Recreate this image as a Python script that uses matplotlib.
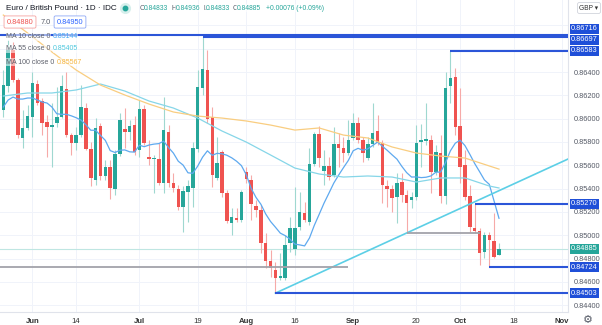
import numpy as np
import pandas as pd
import matplotlib
matplotlib.use("Agg")
import matplotlib.pyplot as plt
import matplotlib.transforms as mtransforms

plt.rcParams['font.family'] = ['Liberation Sans', 'DejaVu Sans']

# EUR/GBP daily candles, 24 May 2021 .. 13 Oct 2021
opens = [0.86074, 0.86280, 0.86589, 0.86331, 0.85834, 0.85920, 0.86014, 0.86297, 0.86151, 0.85971,
         0.85928, 0.85962, 0.86014, 0.86254, 0.85859, 0.85791, 0.85859, 0.86091, 0.85739, 0.85473,
         0.85937, 0.85508, 0.85585, 0.85396, 0.85696, 0.85911, 0.85885, 0.85945, 0.85731, 0.86083,
         0.85671, 0.85654, 0.85654, 0.85448, 0.85885, 0.85448, 0.85396, 0.85242, 0.85370, 0.85405,
         0.85739, 0.86263, 0.86417, 0.86014, 0.85491, 0.85714, 0.85362, 0.85104, 0.85147, 0.85130,
         0.85542, 0.85473, 0.85250, 0.85216, 0.84933, 0.84778, 0.84701, 0.84633, 0.84633, 0.84933,
         0.84880, 0.85070, 0.85190, 0.85113, 0.85611, 0.85868, 0.85551, 0.85593, 0.85516, 0.85782,
         0.85748, 0.85705, 0.85834, 0.85962, 0.85817, 0.85662, 0.85782, 0.85894, 0.85791, 0.85422,
         0.85396, 0.85327, 0.85456, 0.85345, 0.85302, 0.85327, 0.85799, 0.85808, 0.85817, 0.85542,
         0.85705, 0.85336, 0.86280, 0.86357, 0.85937, 0.85602, 0.85336, 0.85062, 0.85036, 0.84856,
         0.85001, 0.84950, 0.84833]
highs = [0.86417, 0.86675, 0.86657, 0.86349, 0.86074, 0.86117, 0.86400, 0.86331, 0.86177, 0.86031,
         0.86134, 0.86271, 0.86374, 0.86400, 0.85877, 0.85928, 0.86288, 0.86134, 0.85799, 0.86005,
         0.85962, 0.85645, 0.85645, 0.85731, 0.86048, 0.86091, 0.85988, 0.86022, 0.86160, 0.86117,
         0.85817, 0.85688, 0.85791, 0.86185, 0.85945, 0.85533, 0.85430, 0.85422, 0.85473, 0.85799,
         0.86417, 0.86697, 0.86589, 0.86100, 0.85842, 0.85731, 0.85388, 0.85233, 0.85233, 0.85388,
         0.85585, 0.85516, 0.85302, 0.85259, 0.85019, 0.84873, 0.84770, 0.84847, 0.85001, 0.85156,
         0.85413, 0.85370, 0.85285, 0.85748, 0.85885, 0.85937, 0.85731, 0.85671, 0.85928, 0.85877,
         0.85842, 0.85988, 0.86048, 0.86014, 0.85842, 0.85842, 0.86134, 0.86031, 0.85817, 0.85473,
         0.85430, 0.85533, 0.85533, 0.85388, 0.85370, 0.85945, 0.85954, 0.86134, 0.85859, 0.85774,
         0.85859, 0.86400, 0.86583, 0.86434, 0.86263, 0.85731, 0.85430, 0.85270, 0.85062, 0.85027,
         0.85027, 0.85190, 0.84936]
lows = [0.86014, 0.86228, 0.86314, 0.85834, 0.85748, 0.85902, 0.85842, 0.86117, 0.85859, 0.85671,
        0.85585, 0.85928, 0.86005, 0.85842, 0.85688, 0.85731, 0.85842, 0.85731, 0.85422, 0.85430,
        0.85473, 0.85473, 0.85310, 0.85345, 0.85679, 0.85748, 0.85817, 0.85688, 0.85671, 0.85774,
        0.85602, 0.85362, 0.85430, 0.85362, 0.85413, 0.85370, 0.85216, 0.85027, 0.85113, 0.85242,
        0.85714, 0.86203, 0.85962, 0.85413, 0.85473, 0.85327, 0.85104, 0.85001, 0.85113, 0.85113,
        0.85448, 0.85130, 0.85156, 0.84847, 0.84718, 0.84641, 0.84503, 0.84615, 0.84615, 0.84856,
        0.84830, 0.85044, 0.85113, 0.85087, 0.85594, 0.85585, 0.85430, 0.85473, 0.85499, 0.85585,
        0.85628, 0.85688, 0.85817, 0.85791, 0.85628, 0.85645, 0.85756, 0.85774, 0.85276, 0.85242,
        0.85199, 0.85104, 0.85285, 0.85019, 0.85233, 0.85302, 0.85585, 0.85774, 0.85362, 0.85516,
        0.85276, 0.85267, 0.86134, 0.85859, 0.85448, 0.85302, 0.85027, 0.85019, 0.84744, 0.84804,
        0.84724, 0.84804, 0.84833]
closes = [0.86288, 0.86589, 0.86331, 0.85859, 0.85920, 0.86022, 0.86306, 0.86134, 0.85962, 0.85928,
          0.85945, 0.86014, 0.86280, 0.85859, 0.85791, 0.85859, 0.86100, 0.85739, 0.85491, 0.85920,
          0.85508, 0.85585, 0.85405, 0.85696, 0.85988, 0.85885, 0.85937, 0.85714, 0.86083, 0.85791,
          0.85654, 0.85662, 0.85448, 0.85902, 0.85448, 0.85405, 0.85242, 0.85379, 0.85422, 0.85748,
          0.86271, 0.86426, 0.85997, 0.85516, 0.85619, 0.85362, 0.85122, 0.85156, 0.85130, 0.85370,
          0.85482, 0.85267, 0.85216, 0.84933, 0.84778, 0.84718, 0.84633, 0.84650, 0.84916, 0.85062,
          0.85062, 0.85199, 0.85130, 0.85611, 0.85868, 0.85662, 0.85593, 0.85499, 0.85782, 0.85748,
          0.85705, 0.85817, 0.85962, 0.85817, 0.85705, 0.85782, 0.85877, 0.85791, 0.85430, 0.85396,
          0.85319, 0.85448, 0.85345, 0.85276, 0.85327, 0.85791, 0.85817, 0.85825, 0.85542, 0.85714,
          0.85336, 0.86263, 0.86349, 0.85928, 0.85585, 0.85327, 0.85070, 0.85036, 0.84847, 0.85001,
          0.84959, 0.84813, 0.84885]

# MA10 before 10 closes are available
ma10_head = [0.86100, 0.86160, 0.86185, 0.86168, 0.86168, 0.86177, 0.86177, 0.86160, 0.86143]

# MA55 / MA100 read at sample bars
ma55_bars = [0, 5, 10, 15, 20, 25, 30, 35, 40, 45, 50, 55, 60, 65, 70, 75, 80, 85, 90, 95, 100, 102]
ma55_vals = [0.86194, 0.86220, 0.86220, 0.86246, 0.86297, 0.86237, 0.86151, 0.86091, 0.86005, 0.85894,
             0.85799, 0.85688, 0.85576, 0.85525, 0.85499, 0.85508, 0.85499, 0.85456, 0.85491, 0.85491,
             0.85422, 0.85405]
ma100_bars = [0, 5, 10, 15, 20, 25, 30, 35, 40, 45, 50, 55, 60, 65, 70, 75, 80, 85, 90, 95, 102]
ma100_vals = [0.86889, 0.86735, 0.86572, 0.86417, 0.86288, 0.86203, 0.86125, 0.86057, 0.86022, 0.86005,
              0.85980, 0.85945, 0.85902, 0.85920, 0.85859, 0.85834, 0.85757, 0.85705, 0.85679, 0.85662,
              0.85567]

# horizontal levels (blue rays) and the bar they start from
levels = [0.86716, 0.86697, 0.86583, 0.85270, 0.84724, 0.84503]
level_start = [-1, 41, 92, 97, 100, 56]
level_label_dy = [4.6, -1.6, 0, 0, 0, 0]
# grey support segments: price, start bar, end bar
grey_levels = [0.84727, 0.85019]
grey_start = [-1, 83]
grey_end = [71, 98]
# rising trendline anchors
trend_bars = [56, 102]
trend_prices = [0.84503, 0.85382]

last_price = 0.84885
tick_dates = ['2021-06-01', '2021-06-14', '2021-07-01', '2021-07-19', '2021-08-02', '2021-08-16',
              '2021-09-01', '2021-09-20', '2021-10-01', '2021-10-18', '2021-11-01']
tick_labels = ['Jun', '14', 'Jul', '19', 'Aug', '16', 'Sep', '20', 'Oct', '18', 'Nov']
price_ticks = [0.844, 0.846, 0.848, 0.850, 0.852, 0.854, 0.856, 0.858, 0.860, 0.862, 0.864]

o = np.array(opens); h = np.array(highs); l = np.array(lows); c = np.array(closes)
x = np.arange(len(c))
all_dates = pd.bdate_range('2021-05-24', periods=130)

W, H = 602, 325
fig = plt.figure(figsize=(W / 100, H / 100), dpi=100)
ax = fig.add_axes([0, 13 / H, 568 / W, 312 / H])
xmin, xmax = -0.68, 116.2
ax.set_xlim(xmin, xmax)
ax.set_ylim(0.84341, 0.87018)

green, red = '#26a69a', '#ef5350'
up = c >= o
ax.vlines(x, l, h, colors=np.where(up, '#9fd8d0', '#f6aaa8'), lw=0.8, zorder=2)
ax.bar(x, np.maximum(np.abs(c - o), 0.00003), bottom=np.minimum(o, c), width=0.72,
       color=np.where(up, green, red), zorder=3)

ma10 = pd.Series(c).rolling(10).mean().to_numpy()
ma10[:9] = ma10_head
ax.plot(x, ma10, color='#5ea9ef', lw=0.9, zorder=4)
ax.plot(ma55_bars, ma55_vals, color='#86d6e8', lw=0.9, zorder=4)
ax.plot(ma100_bars, ma100_vals, color='#f9cd80', lw=0.9, zorder=4)

slope = (trend_prices[1] - trend_prices[0]) / (trend_bars[1] - trend_bars[0])
ax.plot([trend_bars[0], xmax], [trend_prices[0], trend_prices[0] + slope * (xmax - trend_bars[0])],
        color='#5ccfe6', lw=1.2, zorder=5)

ax.axhline(last_price, color='#bfe6e2', lw=0.8, zorder=1)
for p, s, e in zip(grey_levels, grey_start, grey_end):
    ax.hlines(p, s, e, color='#a3a3aa', lw=1.3, zorder=5)
for p, s in zip(levels, level_start):
    ax.hlines(p, s, xmax, color='#2b55d8', lw=1.5, zorder=6)

trans = mtransforms.blended_transform_factory(ax.transAxes, ax.transData)
for p, dy in zip(levels, level_label_dy):
    ax.annotate(f'{p:.5f}', xy=(1, p), xycoords=trans, xytext=(2.2, dy), textcoords='offset points',
                ha='left', va='center', fontsize=5.3, color='white', zorder=10, annotation_clip=False,
                bbox=dict(boxstyle='square,pad=0.2', fc='#1f4fd8', ec='none'))
ax.annotate(f'{last_price:.5f}', xy=(1, last_price), xycoords=trans, xytext=(2.2, 0),
            textcoords='offset points', ha='left', va='center', fontsize=5.3, color='white',
            zorder=10, annotation_clip=False,
            bbox=dict(boxstyle='square,pad=0.2', fc=green, ec='none'))

ax.yaxis.tick_right()
ax.set_yticks(price_ticks)
ax.set_yticklabels([f'{v:.5f}' for v in price_ticks])
ax.tick_params(axis='y', length=0, pad=4.5, labelsize=5.3, labelcolor='#555a66')

tpos = [all_dates.get_loc(pd.Timestamp(d)) for d in tick_dates]
ax.set_xticks(tpos)
ax.set_xticklabels(tick_labels)
ax.tick_params(axis='x', length=0, pad=4, labelsize=5.6, labelcolor='#333')
for lab in ax.get_xticklabels():
    if lab.get_text().isalpha():
        lab.set_fontweight('bold')
ax.grid(True, color='#f0f3fa', lw=0.7, zorder=0)
for yv in [0.866, 0.868]:
    ax.axhline(yv, color='#f0f3fa', lw=0.7, zorder=0)
ax.set_axisbelow(True)
for side in ['top', 'left']:
    ax.spines[side].set_visible(False)
for side in ['bottom', 'right']:
    ax.spines[side].set_color('#e0e3eb')
    ax.spines[side].set_linewidth(0.8)

renderer = fig.canvas.get_renderer()

def ftext(px, py, s, **kw):
    return fig.text(px / W, 1 - py / H, s, va='center', **kw)

def row(px, py, parts, fs, gap=0.0):
    # place coloured pieces one after another
    for s, col in parts:
        t = ftext(px, py, s, fontsize=fs, color=col,
                  bbox=dict(boxstyle='square,pad=0.05', fc='white', ec='none', alpha=0.55))
        px += t.get_window_extent(renderer).width + gap
    return px

ftext(6, 8, 'Euro / British Pound · 1D · IDC', fontsize=5.9, color='#131722')
fig.lines.append(plt.Line2D([125 / W], [1 - 8 / H], marker='o', ms=7, color='#d6efec',
                            transform=fig.transFigure))
fig.lines.append(plt.Line2D([125 / W], [1 - 8 / H], marker='o', ms=3.2, color=green,
                            transform=fig.transFigure))
ohlc = [('O', '0.84833', 140), ('H', '0.84936', 172), ('L', '0.84833', 203), ('C', '0.84885', 233)]
for letter, val, px in ohlc:
    row(px, 8, [(letter, '#555a66'), (val, green)], 4.9, gap=-1.2)
row(266, 8, [('+0.00076 (+0.09%)', green)], 4.9)

ftext(20, 22, '0.84880', fontsize=5.3, color=red, ha='center',
      bbox=dict(boxstyle='round,pad=0.35,rounding_size=0.2', fc='white', ec='#f5a3a1', lw=0.6))
ftext(46, 22, '7.0', fontsize=5.3, color='#555a66', ha='center')
ftext(70, 22, '0.84950', fontsize=5.3, color='#2962ff', ha='center',
      bbox=dict(boxstyle='round,pad=0.35,rounding_size=0.2', fc='white', ec='#8fa8f5', lw=0.6))

ma_labels = [('MA 10 close 0', '0.85144', '#42a5f5', 37),
             ('MA 55 close 0', '0.85405', '#4dc7dd', 49),
             ('MA 100 close 0', '0.85567', '#f5b53f', 62)]
for name, val, col, py in ma_labels:
    row(6, py, [(name, '#5d606b'), (val, col)], 5.0, gap=2.5)

ftext(589, 8, 'GBP ▾', fontsize=4.8, color='#333', ha='center',
      bbox=dict(boxstyle='round,pad=0.3,rounding_size=0.3', fc='white', ec='#d1d4dc', lw=0.6))
ftext(588, 320, '⚙', fontsize=8, color='#555a66', ha='center', family='DejaVu Sans')

fig.savefig('out.png', dpi=100, facecolor='white')
